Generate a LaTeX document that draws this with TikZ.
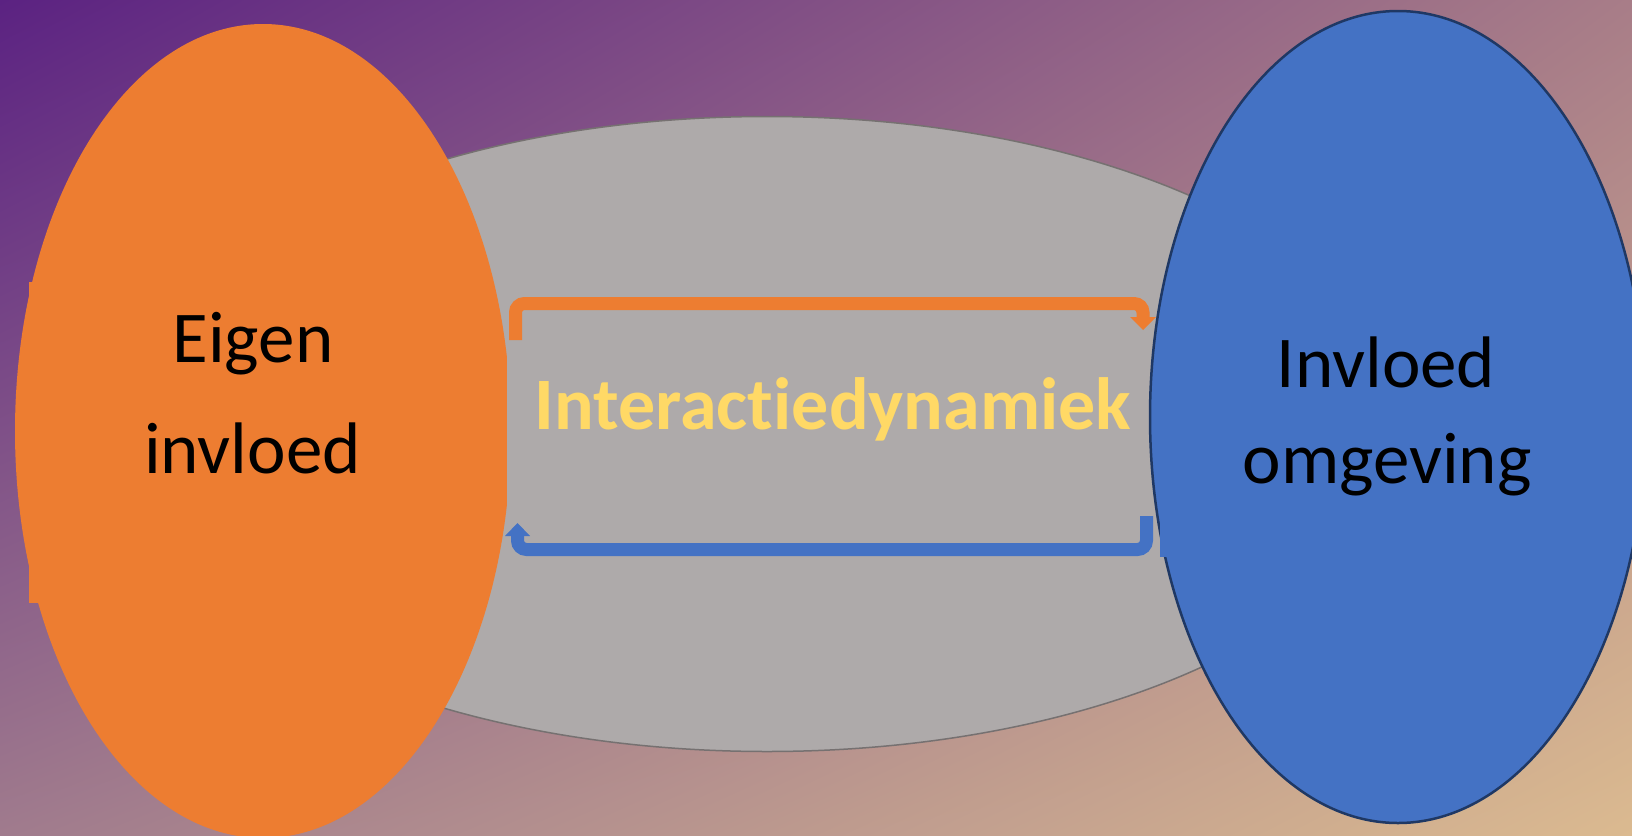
\documentclass[tikz,border=0pt]{standalone}
\usepackage{fontspec}
\setmainfont{Carlito}[Ligatures={NoCommon,NoRequired,NoContextual}]
\usetikzlibrary{shapes.geometric,shadings}
\definecolor{bgTL}{HTML}{5B2282}
\definecolor{bgTR}{HTML}{A87D88}
\definecolor{bgBL}{HTML}{A07B8D}
\definecolor{bgBR}{HTML}{DBBA90}
\definecolor{grayF}{HTML}{AEAAAA}
\definecolor{grayD}{HTML}{767171}
\definecolor{orangeC}{HTML}{ED7D31}
\definecolor{blueC}{HTML}{4472C4}
\definecolor{navyC}{HTML}{1F3864}
\definecolor{yellowC}{HTML}{FFD966}
\tikzset{
  blob/.style={ellipse, inner sep=0pt, outer sep=0pt},
  label/.style={inner sep=0pt, anchor=base, font=\fontsize{73}{80}\selectfont, text=black},
  oline/.style={draw=orangeC, line width=13pt, rounded corners=9pt},
  bline/.style={draw=blueC, line width=13pt, rounded corners=9pt},
}
\begin{document}
\begin{tikzpicture}[x=1pt,y=-1pt]
\useasboundingbox (0,0) rectangle (1632,835);
\shade[upper left=bgTL, upper right=bgTR, lower left=bgBL, lower right=bgBR] (0,0) rectangle (1632,835);
% ellipses
\node[blob, fill=grayF, draw=grayD, line width=1.5pt, minimum width=1280pt, minimum height=635pt] (mid) at (767,434) {};
\node[blob, fill=orangeC, minimum width=496pt, minimum height=814pt] (own) at (263,431) {};
\node[blob, fill=blueC, draw=navyC, line width=2.5pt, minimum width=496pt, minimum height=812pt] (env) at (1398,417) {};
% small artefact rectangles
\fill[orangeC] (29,282) rectangle (120,603);
\fill[grayF] (507,345) rectangle (1130,516);
\fill[blueC] (1160,516) rectangle (1210,557);
% orange arrow
\coordinate (oA) at (515.5,340);
\coordinate (oB) at (515.5,303.5);
\coordinate (oC) at (1143,303.5);
\coordinate (oD) at (1143,318);
\draw[oline] (oA) -- (oB) -- (oC) -- (oD);
\coordinate (oT1) at (1130,317);
\coordinate (oT2) at (1156,317);
\coordinate (oT3) at (1143,330);
\fill[orangeC] (oT1) -- (oT2) -- (oT3) -- cycle;
% blue arrow
\coordinate (bA) at (1146.5,516);
\coordinate (bB) at (1146.5,549.5);
\coordinate (bC) at (517.5,549.5);
\coordinate (bD) at (517.5,535);
\draw[bline] (bA) -- (bB) -- (bC) -- (bD);
\coordinate (bT1) at (505,536);
\coordinate (bT2) at (530,536);
\coordinate (bT3) at (517.5,523);
\fill[blueC] (bT1) -- (bT2) -- (bT3) -- cycle;
% texts
\node[label] (t1) at (253,362) {Eigen};
\node[label] (t2) at (252.5,473) {invloed};
\node[label] (t3) at (1386,387) {Invloed};
\node[label] (t4) at (1387,483) {omgeving};
\node[label, font=\fontsize{74}{80}\selectfont\bfseries, text=yellowC] (t5) at (833,429) {Interactiedynamiek};
\end{tikzpicture}
\end{document}
